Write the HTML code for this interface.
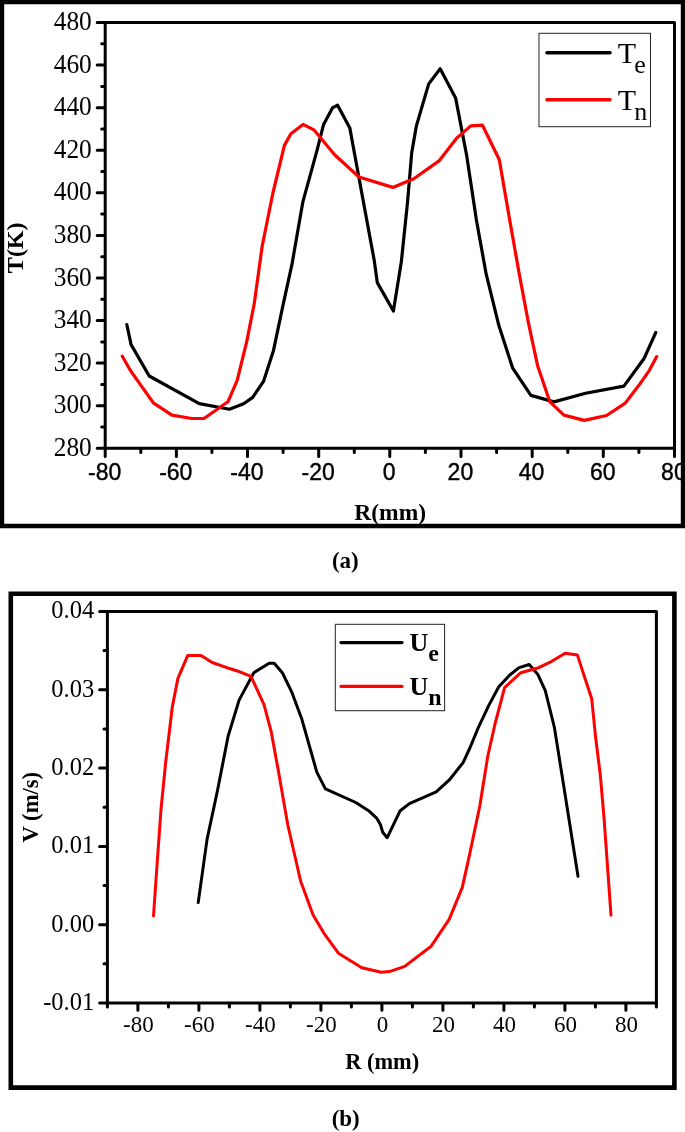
<!DOCTYPE html>
<html lang="en"><head><meta charset="utf-8"><title>Figure</title>
<style>
html,body{margin:0;padding:0;background:#fff;}
body{width:685px;height:1132px;overflow:hidden;position:relative;}
svg{position:absolute;left:0;top:0;display:block;}
.se{font-family:"Liberation Serif","DejaVu Serif",serif;}
.sa{font-family:"Liberation Sans","DejaVu Sans",sans-serif;}
.b{font-weight:bold;}
text{fill:#000;}
</style></head><body>
<svg width="685" height="1132" viewBox="0 0 685 1132">
<rect x="0" y="0" width="685" height="1132" fill="#fff"/>
<g id="chart-a">
<g class="sa" font-size="23" text-anchor="middle" stroke="#000" stroke-width="0.4">
<text x="104.6" y="480.1">-80</text>
<text x="175.8" y="480.1">-60</text>
<text x="246.9" y="480.1">-40</text>
<text x="318.1" y="480.1">-20</text>
<text x="389.2" y="480.1">0</text>
<text x="460.4" y="480.1">20</text>
<text x="531.6" y="480.1">40</text>
<text x="602.7" y="480.1">60</text>
<text x="673.9" y="480.1">80</text>
</g>
<path d="M2 2 H683 V526 H2 Z" fill="none" stroke="#000" stroke-width="4.4"/>
<rect x="105.2" y="22.5" width="569.3" height="425.8" fill="none" stroke="#000" stroke-width="3" stroke-linecap="round" stroke-linejoin="round"/>
<path d="M97.2 448.3H104.6M97.2 405.7H104.6M97.2 363.1H104.6M97.2 320.6H104.6M97.2 278.0H104.6M97.2 235.4H104.6M97.2 192.8H104.6M97.2 150.2H104.6M97.2 107.7H104.6M97.2 65.1H104.6M97.2 22.5H104.6M101.7 427.0H104.6M101.7 384.4H104.6M101.7 341.9H104.6M101.7 299.3H104.6M101.7 256.7H104.6M101.7 214.1H104.6M101.7 171.5H104.6M101.7 128.9H104.6M101.7 86.4H104.6M101.7 43.8H104.6M105.2 448.9V456.6M176.4 448.9V456.6M247.5 448.9V456.6M318.7 448.9V456.6M389.8 448.9V456.6M461.0 448.9V456.6M532.2 448.9V456.6M603.3 448.9V456.6M674.5 448.9V456.6M140.8 448.9V452.4M211.9 448.9V452.4M283.1 448.9V452.4M354.3 448.9V452.4M425.4 448.9V452.4M496.6 448.9V452.4M567.8 448.9V452.4M638.9 448.9V452.4" fill="none" stroke="#000" stroke-width="3" stroke-linecap="round" stroke-linejoin="round"/>
<g class="se" font-size="26.6" text-anchor="end">
<text transform="translate(91.8 455.9) scale(0.955 1)">280</text>
<text transform="translate(91.8 413.3) scale(0.955 1)">300</text>
<text transform="translate(91.8 370.7) scale(0.955 1)">320</text>
<text transform="translate(91.8 328.2) scale(0.955 1)">340</text>
<text transform="translate(91.8 285.6) scale(0.955 1)">360</text>
<text transform="translate(91.8 243.0) scale(0.955 1)">380</text>
<text transform="translate(91.8 200.4) scale(0.955 1)">400</text>
<text transform="translate(91.8 157.8) scale(0.955 1)">420</text>
<text transform="translate(91.8 115.3) scale(0.955 1)">440</text>
<text transform="translate(91.8 72.7) scale(0.955 1)">460</text>
<text transform="translate(91.8 30.1) scale(0.955 1)">480</text>
</g>
<text class="se b" font-size="23.5" text-anchor="middle" x="390.2" y="520">R(mm)</text>
<text class="se b" font-size="24" text-anchor="middle" transform="translate(22.9 247.8) rotate(-90)">T(K)</text>
<polyline points="126.8,324.5 131.1,344.6 149.2,376.0 199.3,403.6 229.4,409.2 243.6,403.8 252.7,397.4 263.5,381.4 273.5,350.4 283.4,303.4 292.0,264.1 302.8,202.2 317.1,150.1 323.6,124.4 332.7,107.6 337.6,105.2 349.8,127.9 359.0,178.0 374.2,260.3 377.3,282.6 393.4,311.0 401.3,262.1 407.5,202.6 411.7,152.8 416.4,125.9 428.7,83.9 440.2,68.7 455.6,97.9 466.6,155.1 476.4,220.0 486.2,274.2 498.8,325.3 512.7,368.2 530.9,395.4 554.0,401.9 585.6,393.2 623.9,386.1 643.9,358.8 655.8,332.5" fill="none" stroke="#000" stroke-width="3.2" stroke-linejoin="round" stroke-linecap="round"/>
<polyline points="122.3,356.2 130.4,370.5 142.7,387.9 153.3,402.8 171.9,415.1 191.8,418.5 204.0,418.5 227.9,401.8 237.2,380.4 246.6,342.2 254.3,303.4 262.2,246.0 272.8,193.5 284.4,145.4 290.9,133.7 303.1,124.4 314.3,130.2 334.6,154.7 359.0,177.0 392.8,187.4 413.8,178.7 439.4,160.6 457.2,137.6 470.8,125.9 482.5,125.2 499.3,159.8 509.7,220.0 519.3,274.2 528.5,323.2 537.7,366.1 549.9,401.9 563.9,415.1 584.3,420.4 606.5,415.5 625.3,403.1 638.5,385.8 649.4,370.3 656.7,356.6" fill="none" stroke="#f00" stroke-width="3.2" stroke-linejoin="round" stroke-linecap="round"/>
<rect x="539" y="33.3" width="111.5" height="93.4" fill="#fff" stroke="#222" stroke-width="1"/>
<path d="M547 52.7H610" stroke="#000" stroke-width="3.6" stroke-linecap="round"/>
<path d="M547 99.7H610" stroke="#f00" stroke-width="3.6" stroke-linecap="round"/>
<text class="se" font-size="30" x="617.8" y="62.9">T<tspan font-size="26" dx="-1.8" dy="10.1">e</tspan></text>
<text class="se" font-size="30" x="617.8" y="109.9">T<tspan font-size="26" dx="-1.8" dy="10.4">n</tspan></text>
</g>
<text class="se b" font-size="23" text-anchor="middle" x="345.3" y="568">(a)</text>
<g id="chart-b">
<path d="M10.8 593.8 H674.4 V1087.6 H10.8 Z" fill="none" stroke="#000" stroke-width="4.6"/>
<rect x="107.4" y="611.4" width="549.0" height="391.6" fill="none" stroke="#000" stroke-width="3" stroke-linecap="round" stroke-linejoin="round"/>
<path d="M99.6 1003.0H106.8M99.6 924.7H106.8M99.6 846.4H106.8M99.6 768.0H106.8M99.6 689.7H106.8M99.6 611.4H106.8M104.0 963.8H106.8M104.0 885.5H106.8M104.0 807.2H106.8M104.0 728.9H106.8M104.0 650.6H106.8M137.9 1003.6V1010.3M198.9 1003.6V1010.3M259.9 1003.6V1010.3M320.9 1003.6V1010.3M381.9 1003.6V1010.3M442.9 1003.6V1010.3M503.9 1003.6V1010.3M564.9 1003.6V1010.3M625.9 1003.6V1010.3M107.4 1003.6V1007.0M168.4 1003.6V1007.0M229.4 1003.6V1007.0M290.4 1003.6V1007.0M351.4 1003.6V1007.0M412.4 1003.6V1007.0M473.4 1003.6V1007.0M534.4 1003.6V1007.0M595.4 1003.6V1007.0M656.4 1003.6V1007.0" fill="none" stroke="#000" stroke-width="3" stroke-linecap="round" stroke-linejoin="round"/>
<g class="se" font-size="24.5" text-anchor="end">
<text x="94.2" y="1009.9">-0.01</text>
<text x="94.2" y="931.6">0.00</text>
<text x="94.2" y="853.3">0.01</text>
<text x="94.2" y="774.9">0.02</text>
<text x="94.2" y="696.6">0.03</text>
<text x="94.2" y="618.3">0.04</text>
</g>
<g class="se" font-size="23.8" text-anchor="middle">
<text transform="translate(138.4 1032.2) scale(0.965 1)">-80</text>
<text transform="translate(199.4 1032.2) scale(0.965 1)">-60</text>
<text transform="translate(260.4 1032.2) scale(0.965 1)">-40</text>
<text transform="translate(321.4 1032.2) scale(0.965 1)">-20</text>
<text transform="translate(382.4 1032.2) scale(0.965 1)">0</text>
<text transform="translate(443.4 1032.2) scale(0.965 1)">20</text>
<text transform="translate(504.4 1032.2) scale(0.965 1)">40</text>
<text transform="translate(565.4 1032.2) scale(0.965 1)">60</text>
<text transform="translate(626.4 1032.2) scale(0.965 1)">80</text>
</g>
<text class="se b" font-size="22.4" text-anchor="middle" x="382.2" y="1069.3">R (mm)</text>
<text class="se b" font-size="22.6" text-anchor="middle" transform="translate(37.8 807.2) rotate(-90)">V (m/s)</text>
<polyline points="198.2,902.6 207.1,839.1 217.6,790.0 228.1,736.3 239.1,700.1 253.8,672.7 269.2,663.2 274.2,663.2 282.5,673.0 292.0,692.7 301.6,718.4 316.8,772.1 325.4,788.9 355.8,802.5 368.6,810.7 376.9,818.4 380.5,824.8 382.7,832.2 387.2,837.7 400.2,810.7 409.4,803.6 436.2,791.8 449.1,780.2 463.1,762.6 470.1,747.5 478.3,727.6 488.8,705.4 498.8,686.7 509.8,675.0 519.1,667.6 529.2,664.5 537.7,674.2 545.3,690.6 554.4,727.5 562.0,775.0 578.0,876.3" fill="none" stroke="#000" stroke-width="3" stroke-linejoin="round" stroke-linecap="round"/>
<polyline points="153.5,916.0 157.1,864.0 161.0,809.5 165.6,763.0 172.3,707.0 177.9,678.4 187.8,655.4 201.1,655.4 212.2,662.5 230.4,668.8 239.8,671.8 251.0,676.4 264.0,704.6 271.0,730.8 278.4,771.0 287.8,825.0 300.6,881.0 313.0,914.7 323.8,933.1 338.4,953.2 361.8,967.8 381.3,972.2 389.5,971.6 404.7,966.4 431.2,946.2 449.3,919.1 462.2,887.6 469.2,856.4 479.8,806.0 487.8,756.0 495.0,724.0 504.6,687.6 520.8,672.7 538.7,667.7 551.8,661.3 565.1,653.3 577.4,655.1 591.7,698.7 595.5,736.3 600.3,775.0 604.0,817.4 611.0,915.2" fill="none" stroke="#f00" stroke-width="3" stroke-linejoin="round" stroke-linecap="round"/>
<rect x="335.3" y="624.3" width="109.3" height="86.4" fill="#fff" stroke="#222" stroke-width="1"/>
<path d="M341 642.6H402" stroke="#000" stroke-width="3.2" stroke-linecap="round"/>
<path d="M341 686.3H402" stroke="#f00" stroke-width="3.2" stroke-linecap="round"/>
<text class="se b" font-size="26" x="409.5" y="650.9">U<tspan font-size="24" dy="10.2">e</tspan></text>
<text class="se b" font-size="26" x="409.5" y="694.8">U<tspan font-size="24" dy="10.2">n</tspan></text>
</g>
<text class="se b" font-size="23" text-anchor="middle" x="345.7" y="1126.4">(b)</text>
</svg>
</body></html>
